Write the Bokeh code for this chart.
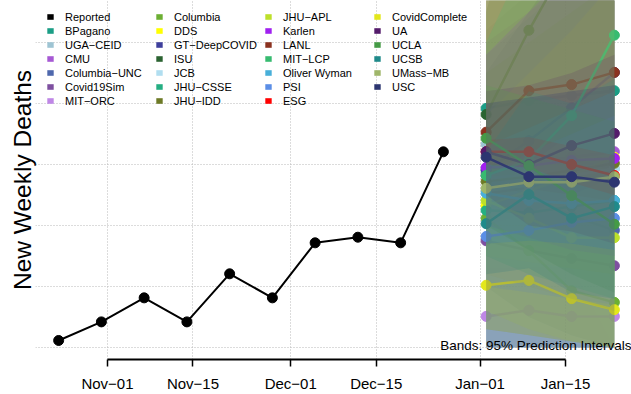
from datetime import datetime, timedelta
import math
from bokeh.plotting import figure
from bokeh.models import FixedTicker, Legend, LegendItem, Label, ColumnDataSource, Range1d
from bokeh.embed import file_html
from bokeh.resources import INLINE

# ---------------- data ----------------
reported_dates = ["2020-10-24", "2020-10-31", "2020-11-07", "2020-11-14", "2020-11-21",
                  "2020-11-28", "2020-12-05", "2020-12-12", "2020-12-19", "2020-12-26"]
reported_values = [11.5, 42, 81.4, 42, 120.8, 81.4, 171.6, 180.8, 171.6, 320.8]

forecast_dates = ["2021-01-02", "2021-01-09", "2021-01-16", "2021-01-23"]

model_names = ["BPagano", "UGA\u2212CEID", "CMU", "Columbia\u2212UNC", "Covid19Sim", "MIT\u2212ORC",
               "Columbia", "DDS", "GT\u2212DeepCOVID", "ISU", "JCB", "JHU\u2212CSSE", "JHU\u2212IDD",
               "JHU\u2212APL", "Karlen", "LANL", "MIT\u2212LCP", "Oliver Wyman", "PSI", "ESG",
               "CovidComplete", "UA", "UCLA", "UCSB", "UMass\u2212MB", "USC"]
model_colors = ["#1b9e86", "#9ec4d3", "#a659d4", "#4f68ad", "#7e50a0", "#bf87e6",
                "#6caf33", "#ffff00", "#3e3f9c", "#2b6331", "#b1def0", "#25ae82", "#6d7a26",
                "#bde02a", "#a020f0", "#8b3220", "#37bb70", "#48afd9", "#5b8ee6", "#ff0000",
                "#e3e71b", "#541b6b", "#459b46", "#1f8a8a", "#9fb66a", "#2c3570"]

median_values = [
    [392, 405, 413, 421],   # BPagano
    [333, 320, 307, 293],   # UGA-CEID
    [293, 302, 312, 321],   # CMU
    [282, 249, 216, 192],   # Columbia-UNC
    [175, 159, 146, 134],   # Covid19Sim
    [51, 61, 51, 51],       # MIT-ORC
    [212, 159, 93, 74],     # Columbia
    [233, 257, 282, 312],   # DDS
    [290, 339, 393, 451],   # GT-DeepCOVID
    [382, 520, 644, 766],   # ISU
    [257, 266, 282, 293],   # JCB
    [225, 221, 231, 241],   # JHU-CSSE
    [272, 280, 290, 302],   # JHU-IDD
    [241, 212, 180, 180],   # JHU-APL
    [295, 298, 307, 310],   # Karlen
    [353, 421, 431, 451],   # LANL
    [282, 307, 380, 512],   # MIT-LCP
    [253, 241, 236, 241],   # Oliver Wyman
    [182, 192, 205, 212],   # PSI
    [321, 321, 300, 282],   # ESG
    [102, 110, 80, 62],     # CovidComplete
    [321, 300, 331, 351],   # UA
    [343, 298, 249, 202],   # UCLA
    [203, 251, 212, 231],   # UCSB
    [261, 271, 271, 280],   # UMass-MB
    [312, 280, 280, 271],   # USC
]
lower_values = [
    [280, 250, 220, 200], [200, 170, 150, 130], [200, 180, 160, 150], [100, 50, 20, 0],
    [0, 0, 0, 0], [0, 0, 0, 0], [0, 0, 0, 0], [150, 140, 130, 120], [200, 220, 250, 280],
    [250, 300, 350, 380], [0, 0, 0, 0], [150, 120, 100, 80], [30, 20, 10, 0],
    [60, 30, 10, 0], [200, 180, 160, 150], [250, 260, 250, 240], [150, 120, 100, 80],
    [0, 0, 0, 0], [100, 90, 80, 70], [300, 295, 270, 250], [30, 20, 10, 0],
    [250, 200, 190, 170], [200, 160, 120, 90], [120, 130, 90, 80], [120, 100, 80, 60],
    [0, 0, 0, 0],
]
upper_values = [
    [600, 700, 800, 900], [520, 580, 640, 700], [500, 550, 600, 650], [480, 540, 600, 650],
    [650, 750, 850, 1000], [131, 131, 131, 0], [450, 500, 550, 600], [380, 450, 520, 600],
    [450, 550, 650, 800], [550, 800, 1000, 1200], [280, 285, 290, 295], [320, 360, 390, 420],
    [600, 750, 900, 1000], [580, 640, 700, 800], [480, 550, 620, 700], [600, 700, 800, 900],
    [500, 650, 800, 1000], [330, 360, 390, 420], [280, 320, 350, 380], [340, 345, 330, 315],
    [170, 175, 170, 160], [420, 430, 450, 480], [430, 410, 390, 370], [320, 420, 400, 440],
    [620, 680, 740, 800], [400, 410, 420, 430],
]

tick_dates = ["2020-11-01", "2020-11-15", "2020-12-01", "2020-12-15", "2021-01-01", "2021-01-15"]
tick_labels = ["Nov\u221201", "Nov\u221215", "Dec\u221201", "Dec\u221215", "Jan\u221201", "Jan\u221215"]
y_grid_values = [0, 100, 200, 300, 400, 500]

# ---------------- helpers ----------------
EPOCH = datetime(1970, 1, 1)


def to_dt(s):
    return datetime.strptime(s, "%Y-%m-%d")


def to_ms(s):
    return int((to_dt(s) - EPOCH).total_seconds() * 1000)


FONT = "Liberation Sans"
LEFT = 35
FRAME_W, FRAME_H = 596, 359
PX_PER_DAY = 6.107
PX_PER_UNIT = 0.61

x_start = to_dt(tick_dates[0]) - timedelta(days=72 / PX_PER_DAY)
x_end = x_start + timedelta(days=FRAME_W / PX_PER_DAY)
y_start = -12 / PX_PER_UNIT
y_end = y_start + FRAME_H / PX_PER_UNIT

p = figure(frame_width=FRAME_W, frame_height=FRAME_H, x_axis_type="datetime",
           x_range=Range1d(x_start, x_end), y_range=Range1d(y_start, y_end),
           output_backend="svg", toolbar_location=None,
           min_border_left=LEFT, min_border_right=0, min_border_top=0, min_border_bottom=0,
           outline_line_color=None, background_fill_color="white", border_fill_color="white")

tick_ms = [to_ms(t) for t in tick_dates]
p.xaxis.ticker = FixedTicker(ticks=tick_ms)
p.xaxis.major_label_overrides = {ms: lab for ms, lab in zip(tick_ms, tick_labels)}
p.xaxis.bounds = (tick_ms[0], tick_ms[-1])
p.xaxis.minor_tick_line_color = None
p.xaxis.major_tick_out = 7
p.xaxis.major_tick_in = 0
p.xaxis.major_tick_line_width = 1.5
p.xaxis.axis_line_width = 1.8
p.xaxis.major_label_standoff = 8
p.xaxis.major_label_text_font = FONT
p.xaxis.major_label_text_font_size = "15px"
p.xaxis.major_label_text_color = "black"

# y axis: only its title is shown
p.yaxis.ticker = FixedTicker(ticks=[])
p.yaxis.axis_line_color = None
p.yaxis.major_tick_out = 0
p.yaxis.major_tick_in = 0
p.yaxis.minor_tick_out = 0
p.yaxis.minor_tick_in = 0
p.yaxis.major_label_standoff = 0
p.yaxis.axis_label = "New Weekly Deaths"
p.yaxis.axis_label_standoff = 0
p.yaxis.axis_label_text_font = FONT
p.yaxis.axis_label_text_font_size = "24.5px"
p.yaxis.axis_label_text_font_style = "normal"
p.yaxis.axis_label_text_color = "black"

p.ygrid.ticker = FixedTicker(ticks=y_grid_values)
for g in (p.xgrid, p.ygrid):
    g.grid_line_color = "#b8b8b8"
    g.grid_line_dash = "1 2"
    g.grid_line_width = 1

# reported
rep_src = ColumnDataSource(dict(x=[to_dt(d) for d in reported_dates], y=reported_values))
p.line("x", "y", source=rep_src, line_color="black", line_width=2)
p.scatter("x", "y", source=rep_src, size=10, fill_color="black", line_color="black")

fx = [to_dt(d) for d in forecast_dates]

# each model: its band, then its median line and points
for name, col, lo, hi, med in zip(model_names, model_colors, lower_values, upper_values, median_values):
    p.varea(x=fx, y1=lo, y2=hi, fill_color=col, fill_alpha=0.22)
    p.line(fx, med, line_color=col, line_width=2.5, line_alpha=0.9)
    p.scatter(fx, med, size=10, fill_color=col, line_color=col)

# legend (solid squares)
NAN = [math.nan]
items = []
r0 = p.quad(left=NAN, right=NAN, top=NAN, bottom=NAN, fill_color="black", line_color=None)
items.append(LegendItem(label="Reported", renderers=[r0]))
for name, col in zip(model_names, model_colors):
    r = p.quad(left=NAN, right=NAN, top=NAN, bottom=NAN, fill_color=col, line_color=None)
    items.append(LegendItem(label=name, renderers=[r]))

legend = Legend(items=items, location=(11, FRAME_H - 9.5 - 98), orientation="vertical", nrows=7,
                glyph_width=8, glyph_height=7, label_height=14, label_width=90,
                label_standoff=11, spacing=0, padding=0, margin=0,
                background_fill_alpha=0, border_line_color=None,
                label_text_font=FONT, label_text_font_size="11px", label_text_color="black")
p.add_layout(legend, "center")

p.add_layout(Label(x=FRAME_W, y=14, x_units="screen", y_units="screen",
                   text="Bands: 95% Prediction Intervals", text_align="right",
                   text_baseline="middle", text_font=FONT, text_font_size="13.5px",
                   text_color="black"))

open("out.html", "w").write(file_html(p, INLINE))
